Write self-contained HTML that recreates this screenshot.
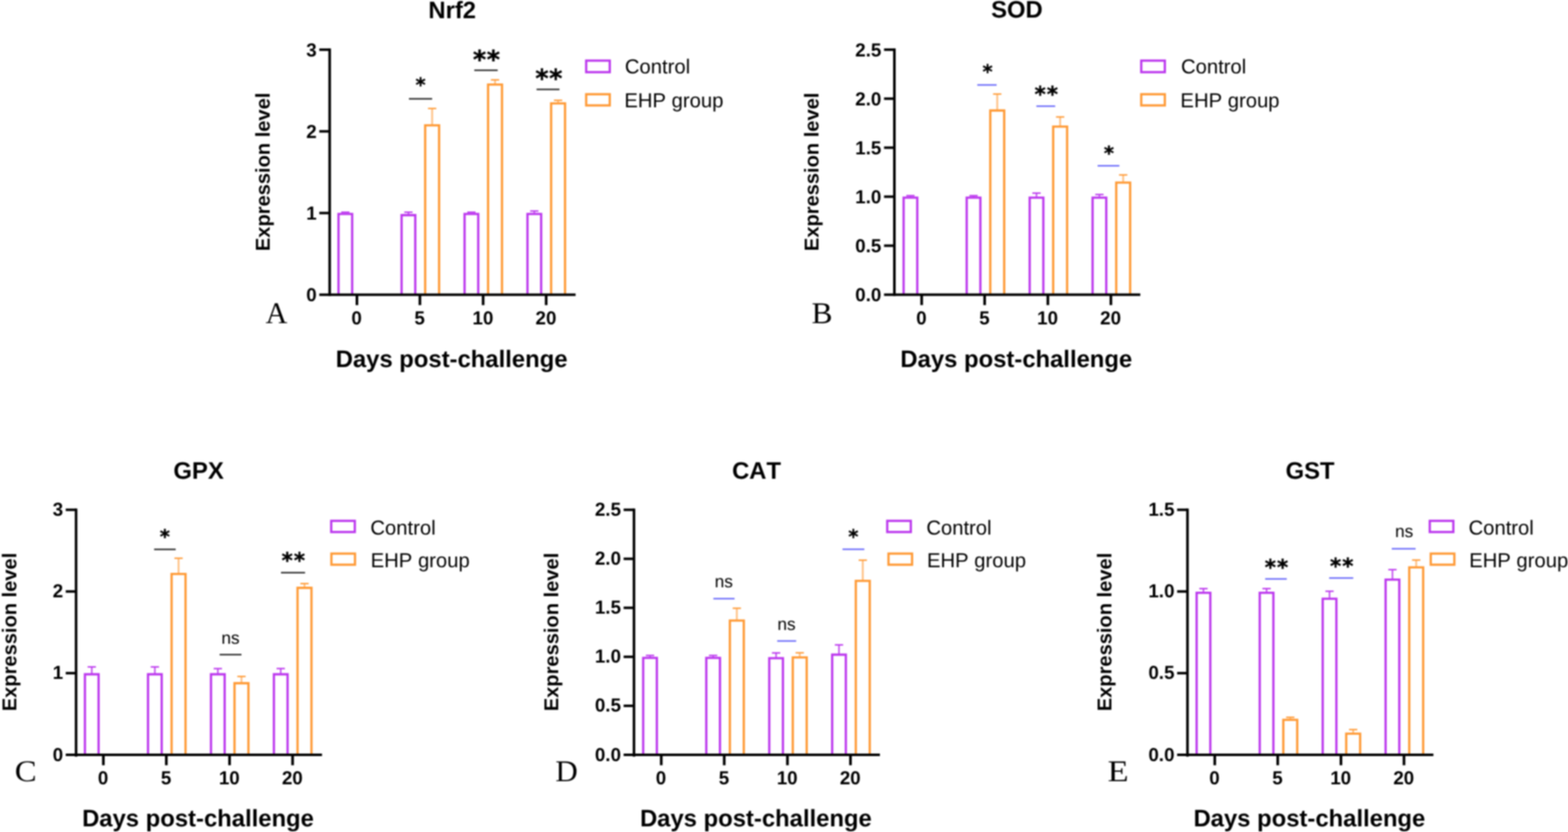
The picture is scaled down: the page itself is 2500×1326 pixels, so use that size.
<!DOCTYPE html>
<html lang="en"><head><meta charset="utf-8"><title>Expression levels of Nrf2, SOD, GPX, CAT and GST</title>
<style>
html,body{margin:0;padding:0;background:#fff}
body{width:2500px;height:1326px;overflow:hidden}
svg{display:block;filter:blur(1px)}
text{font-kerning:none;text-rendering:geometricPrecision}
text.s{font-family:'Liberation Sans', sans-serif;fill:#000}
text.r{font-family:'Liberation Serif', serif;fill:#000}
text.a{font-family:'DejaVu Sans', 'Liberation Sans', sans-serif;fill:#000;font-weight:bold;stroke:#000;stroke-width:0.5px}
</style></head><body>
<svg width="2500" height="1326" viewBox="0 0 2500 1326" shape-rendering="geometricPrecision">
<rect x="0" y="0" width="2500" height="1326" fill="#fff"/>
<g id="panelA">
<path d="M539.7 469.7V341H561.5V469.7" fill="none" stroke="#BC38EE" stroke-width="3.6" stroke-linejoin="miter"/>
<rect x="544" y="337.05" width="13.2" height="2.3" fill="#BC38EE"/>
<path d="M640.3 469.7V342.9H662.1V469.7" fill="none" stroke="#BC38EE" stroke-width="3.6" stroke-linejoin="miter"/>
<rect x="649.9" y="338.2" width="2.6" height="3.4" fill="#BC38EE" opacity="0.85"/>
<rect x="644.6" y="337.05" width="13.2" height="2.3" fill="#BC38EE"/>
<path d="M740.7 469.7V341H762.5V469.7" fill="none" stroke="#BC38EE" stroke-width="3.6" stroke-linejoin="miter"/>
<rect x="745" y="337.05" width="13.2" height="2.3" fill="#BC38EE"/>
<path d="M841 469.7V341H862.8V469.7" fill="none" stroke="#BC38EE" stroke-width="3.6" stroke-linejoin="miter"/>
<rect x="850.6" y="336.3" width="2.6" height="3.4" fill="#BC38EE" opacity="0.85"/>
<rect x="845.3" y="335.15" width="13.2" height="2.3" fill="#BC38EE"/>
<path d="M677.9 469.7V199.8H700.1V469.7" fill="none" stroke="#FF9A36" stroke-width="3.6" stroke-linejoin="miter"/>
<rect x="687.5" y="172.9" width="3" height="25.6" fill="#FF9A36" opacity="0.6"/>
<rect x="682.4" y="171.75" width="13.2" height="2.3" fill="#FF9A36"/>
<path d="M778.2 469.7V134.8H800.4V469.7" fill="none" stroke="#FF9A36" stroke-width="3.6" stroke-linejoin="miter"/>
<rect x="787.8" y="127.3" width="3" height="6.2" fill="#FF9A36" opacity="0.6"/>
<rect x="782.7" y="126.15" width="13.2" height="2.3" fill="#FF9A36"/>
<path d="M878.7 469.7V164.8H900.9V469.7" fill="none" stroke="#FF9A36" stroke-width="3.6" stroke-linejoin="miter"/>
<rect x="888.3" y="159.9" width="3" height="3.6" fill="#FF9A36" opacity="0.6"/>
<rect x="883.2" y="158.75" width="13.2" height="2.3" fill="#FF9A36"/>
<rect x="523.55" y="77.2" width="4.1" height="394.5" fill="#000"/>
<rect x="509.1" y="467.7" width="408.6" height="4" fill="#000"/>
<text class="s" x="504.9" y="480.1" font-size="30" font-weight="bold" text-anchor="end">0</text>
<rect x="509.1" y="337.53" width="16.5" height="4" fill="#000"/>
<text class="s" x="504.9" y="349.93" font-size="30" font-weight="bold" text-anchor="end">1</text>
<rect x="509.1" y="207.37" width="16.5" height="4" fill="#000"/>
<text class="s" x="504.9" y="219.77" font-size="30" font-weight="bold" text-anchor="end">2</text>
<rect x="509.1" y="77.2" width="16.5" height="4" fill="#000"/>
<text class="s" x="504.9" y="89.6" font-size="30" font-weight="bold" text-anchor="end">3</text>
<rect x="567" y="469.7" width="4.2" height="16.6" fill="#000"/>
<text class="s" x="568.7" y="517.1" font-size="30" font-weight="bold" text-anchor="middle">0</text>
<rect x="667.4" y="469.7" width="4.2" height="16.6" fill="#000"/>
<text class="s" x="669.1" y="517.1" font-size="30" font-weight="bold" text-anchor="middle">5</text>
<rect x="768.2" y="469.7" width="4.2" height="16.6" fill="#000"/>
<text class="s" x="769.9" y="517.1" font-size="30" font-weight="bold" text-anchor="middle">10</text>
<rect x="868.7" y="469.7" width="4.2" height="16.6" fill="#000"/>
<text class="s" x="870.4" y="517.1" font-size="30" font-weight="bold" text-anchor="middle">20</text>
<text class="s" x="721" y="28.5" font-size="38" font-weight="bold" text-anchor="middle">Nrf2</text>
<text class="s" x="720" y="585" font-size="38" font-weight="bold" text-anchor="middle">Days post-challenge</text>
<text class="s" x="429.7" y="273.95" font-size="32" font-weight="bold" text-anchor="middle" transform="rotate(-90 429.7 273.95)">Expression level</text>
<text class="r" font-size="48" transform="translate(423.5 514.5) scale(1 1)">A</text>
<rect x="934.6" y="96.6" width="37.6" height="18.4" fill="none" stroke="#BC38EE" stroke-width="3.6"/>
<text class="s" x="996.2" y="117.3" font-size="32.3">Control</text>
<rect x="934.6" y="150.2" width="37.6" height="17.8" fill="none" stroke="#FF9A36" stroke-width="3.6"/>
<text class="s" x="995.4" y="171" font-size="32.3">EHP group</text>
<rect x="652" y="156.3" width="37" height="2.4" fill="#2a2a2a"/>
<text class="a" x="670.5" y="146.13" font-size="30.88" font-weight="bold" text-anchor="middle">*</text>
<rect x="756.2" y="110.8" width="37.3" height="2.4" fill="#2a2a2a"/>
<text class="a" x="776.1" y="108.55" font-size="40.53" font-weight="bold" text-anchor="middle" letter-spacing="0.8">**</text>
<rect x="855.5" y="141.3" width="36.5" height="2.4" fill="#2a2a2a"/>
<text class="a" x="875.4" y="139.05" font-size="40.53" font-weight="bold" text-anchor="middle" letter-spacing="0.8">**</text>
</g>
<g id="panelB">
<path d="M1440.7 469.65V315H1462.5V469.65" fill="none" stroke="#BC38EE" stroke-width="3.6" stroke-linejoin="miter"/>
<rect x="1450.3" y="311.8" width="2.6" height="1.9" fill="#BC38EE" opacity="0.85"/>
<rect x="1445" y="310.65" width="13.2" height="2.3" fill="#BC38EE"/>
<path d="M1541.3 469.65V315H1563.1V469.65" fill="none" stroke="#BC38EE" stroke-width="3.6" stroke-linejoin="miter"/>
<rect x="1550.9" y="311.8" width="2.6" height="1.9" fill="#BC38EE" opacity="0.85"/>
<rect x="1545.6" y="310.65" width="13.2" height="2.3" fill="#BC38EE"/>
<path d="M1641.7 469.65V315H1663.5V469.65" fill="none" stroke="#BC38EE" stroke-width="3.6" stroke-linejoin="miter"/>
<rect x="1651.3" y="307.8" width="2.6" height="5.9" fill="#BC38EE" opacity="0.85"/>
<rect x="1646" y="306.65" width="13.2" height="2.3" fill="#BC38EE"/>
<path d="M1742 469.65V315H1763.8V469.65" fill="none" stroke="#BC38EE" stroke-width="3.6" stroke-linejoin="miter"/>
<rect x="1751.6" y="310" width="2.6" height="3.7" fill="#BC38EE" opacity="0.85"/>
<rect x="1746.3" y="308.85" width="13.2" height="2.3" fill="#BC38EE"/>
<path d="M1578.9 469.65V176.1H1601.1V469.65" fill="none" stroke="#FF9A36" stroke-width="3.6" stroke-linejoin="miter"/>
<rect x="1588.5" y="149.9" width="3" height="24.9" fill="#FF9A36" opacity="0.6"/>
<rect x="1583.4" y="148.75" width="13.2" height="2.3" fill="#FF9A36"/>
<path d="M1679.2 469.65V201.8H1701.4V469.65" fill="none" stroke="#FF9A36" stroke-width="3.6" stroke-linejoin="miter"/>
<rect x="1688.8" y="186.4" width="3" height="14.1" fill="#FF9A36" opacity="0.6"/>
<rect x="1683.7" y="185.25" width="13.2" height="2.3" fill="#FF9A36"/>
<path d="M1779.7 469.65V291H1801.9V469.65" fill="none" stroke="#FF9A36" stroke-width="3.6" stroke-linejoin="miter"/>
<rect x="1789.3" y="278.8" width="3" height="10.9" fill="#FF9A36" opacity="0.6"/>
<rect x="1784.2" y="277.65" width="13.2" height="2.3" fill="#FF9A36"/>
<rect x="1423.95" y="77.15" width="4.1" height="394.5" fill="#000"/>
<rect x="1409.5" y="467.65" width="408.6" height="4" fill="#000"/>
<text class="s" x="1405.3" y="480.05" font-size="30" font-weight="bold" text-anchor="end">0.0</text>
<rect x="1409.5" y="389.55" width="16.5" height="4" fill="#000"/>
<text class="s" x="1405.3" y="401.95" font-size="30" font-weight="bold" text-anchor="end">0.5</text>
<rect x="1409.5" y="311.45" width="16.5" height="4" fill="#000"/>
<text class="s" x="1405.3" y="323.85" font-size="30" font-weight="bold" text-anchor="end">1.0</text>
<rect x="1409.5" y="233.35" width="16.5" height="4" fill="#000"/>
<text class="s" x="1405.3" y="245.75" font-size="30" font-weight="bold" text-anchor="end">1.5</text>
<rect x="1409.5" y="155.25" width="16.5" height="4" fill="#000"/>
<text class="s" x="1405.3" y="167.65" font-size="30" font-weight="bold" text-anchor="end">2.0</text>
<rect x="1409.5" y="77.15" width="16.5" height="4" fill="#000"/>
<text class="s" x="1405.3" y="89.55" font-size="30" font-weight="bold" text-anchor="end">2.5</text>
<rect x="1467.4" y="469.65" width="4.2" height="16.6" fill="#000"/>
<text class="s" x="1469.1" y="517.05" font-size="30" font-weight="bold" text-anchor="middle">0</text>
<rect x="1567.8" y="469.65" width="4.2" height="16.6" fill="#000"/>
<text class="s" x="1569.5" y="517.05" font-size="30" font-weight="bold" text-anchor="middle">5</text>
<rect x="1668.6" y="469.65" width="4.2" height="16.6" fill="#000"/>
<text class="s" x="1670.3" y="517.05" font-size="30" font-weight="bold" text-anchor="middle">10</text>
<rect x="1769.1" y="469.65" width="4.2" height="16.6" fill="#000"/>
<text class="s" x="1770.8" y="517.05" font-size="30" font-weight="bold" text-anchor="middle">20</text>
<text class="s" x="1621.4" y="28.45" font-size="38" font-weight="bold" text-anchor="middle">SOD</text>
<text class="s" x="1620.4" y="584.95" font-size="38" font-weight="bold" text-anchor="middle">Days post-challenge</text>
<text class="s" x="1305" y="273.9" font-size="32" font-weight="bold" text-anchor="middle" transform="rotate(-90 1305 273.9)">Expression level</text>
<text class="r" font-size="48" transform="translate(1294.1 515) scale(1.04 1)">B</text>
<rect x="1819.6" y="96.6" width="37.6" height="18.4" fill="none" stroke="#BC38EE" stroke-width="3.6"/>
<text class="s" x="1882.9" y="117.3" font-size="32.3">Control</text>
<rect x="1819.6" y="150.2" width="37.6" height="17.8" fill="none" stroke="#FF9A36" stroke-width="3.6"/>
<text class="s" x="1882.1" y="171" font-size="32.3">EHP group</text>
<rect x="1558.2" y="134.2" width="30.8" height="2.4" fill="#6a6afa"/>
<text class="a" x="1574.5" y="125.13" font-size="30.88" font-weight="bold" text-anchor="middle">*</text>
<rect x="1652.4" y="168" width="30" height="2.4" fill="#6a6afa"/>
<text class="a" x="1669.1" y="161.87" font-size="34.26" font-weight="bold" text-anchor="middle" letter-spacing="1.6">**</text>
<rect x="1750" y="263" width="34.7" height="2.4" fill="#6a6afa"/>
<text class="a" x="1768.1" y="255.13" font-size="30.88" font-weight="bold" text-anchor="middle">*</text>
</g>
<g id="panelC">
<path d="M135.4 1203V1074.6H157.2V1203" fill="none" stroke="#BC38EE" stroke-width="3.6" stroke-linejoin="miter"/>
<rect x="145" y="1062.9" width="2.6" height="10.4" fill="#BC38EE" opacity="0.85"/>
<rect x="139.7" y="1061.75" width="13.2" height="2.3" fill="#BC38EE"/>
<path d="M236 1203V1074.6H257.8V1203" fill="none" stroke="#BC38EE" stroke-width="3.6" stroke-linejoin="miter"/>
<rect x="245.6" y="1062.9" width="2.6" height="10.4" fill="#BC38EE" opacity="0.85"/>
<rect x="240.3" y="1061.75" width="13.2" height="2.3" fill="#BC38EE"/>
<path d="M336.4 1203V1074.6H358.2V1203" fill="none" stroke="#BC38EE" stroke-width="3.6" stroke-linejoin="miter"/>
<rect x="346" y="1065.6" width="2.6" height="7.7" fill="#BC38EE" opacity="0.85"/>
<rect x="340.7" y="1064.45" width="13.2" height="2.3" fill="#BC38EE"/>
<path d="M436.7 1203V1074.6H458.5V1203" fill="none" stroke="#BC38EE" stroke-width="3.6" stroke-linejoin="miter"/>
<rect x="446.3" y="1065.5" width="2.6" height="7.8" fill="#BC38EE" opacity="0.85"/>
<rect x="441" y="1064.35" width="13.2" height="2.3" fill="#BC38EE"/>
<path d="M273.6 1203V914.7H295.8V1203" fill="none" stroke="#FF9A36" stroke-width="3.6" stroke-linejoin="miter"/>
<rect x="283.2" y="889.7" width="3" height="23.7" fill="#FF9A36" opacity="0.6"/>
<rect x="278.1" y="888.55" width="13.2" height="2.3" fill="#FF9A36"/>
<path d="M373.9 1203V1088.9H396.1V1203" fill="none" stroke="#FF9A36" stroke-width="3.6" stroke-linejoin="miter"/>
<rect x="383.5" y="1078.1" width="3" height="9.5" fill="#FF9A36" opacity="0.6"/>
<rect x="378.4" y="1076.95" width="13.2" height="2.3" fill="#FF9A36"/>
<path d="M474.4 1203V936.9H496.6V1203" fill="none" stroke="#FF9A36" stroke-width="3.6" stroke-linejoin="miter"/>
<rect x="484" y="930.1" width="3" height="5.5" fill="#FF9A36" opacity="0.6"/>
<rect x="478.9" y="928.95" width="13.2" height="2.3" fill="#FF9A36"/>
<rect x="119.25" y="810.5" width="4.1" height="395.4" fill="#000"/>
<rect x="104.8" y="1201" width="408.6" height="4" fill="#000"/>
<text class="s" x="100.6" y="1212.5" font-size="30" font-weight="bold" text-anchor="end">0</text>
<rect x="104.8" y="1070.83" width="16.5" height="4" fill="#000"/>
<text class="s" x="100.6" y="1082.33" font-size="30" font-weight="bold" text-anchor="end">1</text>
<rect x="104.8" y="940.67" width="16.5" height="4" fill="#000"/>
<text class="s" x="100.6" y="952.17" font-size="30" font-weight="bold" text-anchor="end">2</text>
<rect x="104.8" y="810.5" width="16.5" height="4" fill="#000"/>
<text class="s" x="100.6" y="822" font-size="30" font-weight="bold" text-anchor="end">3</text>
<rect x="162.7" y="1203" width="4.2" height="16.6" fill="#000"/>
<text class="s" x="164.4" y="1249.5" font-size="30" font-weight="bold" text-anchor="middle">0</text>
<rect x="263.1" y="1203" width="4.2" height="16.6" fill="#000"/>
<text class="s" x="264.8" y="1249.5" font-size="30" font-weight="bold" text-anchor="middle">5</text>
<rect x="363.9" y="1203" width="4.2" height="16.6" fill="#000"/>
<text class="s" x="365.6" y="1249.5" font-size="30" font-weight="bold" text-anchor="middle">10</text>
<rect x="464.4" y="1203" width="4.2" height="16.6" fill="#000"/>
<text class="s" x="466.1" y="1249.5" font-size="30" font-weight="bold" text-anchor="middle">20</text>
<text class="s" x="316.7" y="762.5" font-size="38" font-weight="bold" text-anchor="middle">GPX</text>
<text class="s" x="315.7" y="1316.8" font-size="38" font-weight="bold" text-anchor="middle">Days post-challenge</text>
<text class="s" x="25.8" y="1007.25" font-size="32" font-weight="bold" text-anchor="middle" transform="rotate(-90 25.8 1007.25)">Expression level</text>
<text class="r" font-size="48" transform="translate(23.6 1245) scale(1.09 1)">C</text>
<rect x="528.1" y="830.1" width="37.6" height="17.8" fill="none" stroke="#BC38EE" stroke-width="3.6"/>
<text class="s" x="590.5" y="851.7" font-size="32.3">Control</text>
<rect x="528.4" y="882.3" width="37.6" height="17.7" fill="none" stroke="#FF9A36" stroke-width="3.6"/>
<text class="s" x="591" y="904" font-size="32.3">EHP group</text>
<rect x="245.7" y="874.4" width="34.4" height="2.4" fill="#2a2a2a"/>
<text class="a" x="262.9" y="865.83" font-size="30.88" font-weight="bold" text-anchor="middle">*</text>
<rect x="350.2" y="1042.1" width="34.8" height="2.4" fill="#2a2a2a"/>
<text class="s" x="367.6" y="1025.9" font-size="27.5" text-anchor="middle">ns</text>
<rect x="448" y="911.5" width="38.4" height="2.4" fill="#2a2a2a"/>
<text class="a" x="468.5" y="905.27" font-size="34.26" font-weight="bold" text-anchor="middle" letter-spacing="1.6">**</text>
</g>
<g id="panelD">
<path d="M1025.5 1203V1048.5H1047.3V1203" fill="none" stroke="#BC38EE" stroke-width="3.6" stroke-linejoin="miter"/>
<rect x="1035.1" y="1044.6" width="2.6" height="2.6" fill="#BC38EE" opacity="0.85"/>
<rect x="1029.8" y="1043.45" width="13.2" height="2.3" fill="#BC38EE"/>
<path d="M1126.1 1203V1048.5H1147.9V1203" fill="none" stroke="#BC38EE" stroke-width="3.6" stroke-linejoin="miter"/>
<rect x="1135.7" y="1044.6" width="2.6" height="2.6" fill="#BC38EE" opacity="0.85"/>
<rect x="1130.4" y="1043.45" width="13.2" height="2.3" fill="#BC38EE"/>
<path d="M1226.5 1203V1049H1248.3V1203" fill="none" stroke="#BC38EE" stroke-width="3.6" stroke-linejoin="miter"/>
<rect x="1236.1" y="1040.6" width="2.6" height="7.1" fill="#BC38EE" opacity="0.85"/>
<rect x="1230.8" y="1039.45" width="13.2" height="2.3" fill="#BC38EE"/>
<path d="M1326.8 1203V1043.4H1348.6V1203" fill="none" stroke="#BC38EE" stroke-width="3.6" stroke-linejoin="miter"/>
<rect x="1336.4" y="1027.8" width="2.6" height="14.3" fill="#BC38EE" opacity="0.85"/>
<rect x="1331.1" y="1026.65" width="13.2" height="2.3" fill="#BC38EE"/>
<path d="M1163.7 1203V989H1185.9V1203" fill="none" stroke="#FF9A36" stroke-width="3.6" stroke-linejoin="miter"/>
<rect x="1173.3" y="969.4" width="3" height="18.3" fill="#FF9A36" opacity="0.6"/>
<rect x="1168.2" y="968.25" width="13.2" height="2.3" fill="#FF9A36"/>
<path d="M1264 1203V1047.7H1286.2V1203" fill="none" stroke="#FF9A36" stroke-width="3.6" stroke-linejoin="miter"/>
<rect x="1273.6" y="1040.4" width="3" height="6" fill="#FF9A36" opacity="0.6"/>
<rect x="1268.5" y="1039.25" width="13.2" height="2.3" fill="#FF9A36"/>
<path d="M1364.5 1203V925.7H1386.7V1203" fill="none" stroke="#FF9A36" stroke-width="3.6" stroke-linejoin="miter"/>
<rect x="1374.1" y="892.8" width="3" height="31.6" fill="#FF9A36" opacity="0.6"/>
<rect x="1369" y="891.65" width="13.2" height="2.3" fill="#FF9A36"/>
<rect x="1008.75" y="810.5" width="4.1" height="395.4" fill="#000"/>
<rect x="994.3" y="1201" width="408.6" height="4" fill="#000"/>
<text class="s" x="990.1" y="1212.5" font-size="30" font-weight="bold" text-anchor="end">0.0</text>
<rect x="994.3" y="1122.9" width="16.5" height="4" fill="#000"/>
<text class="s" x="990.1" y="1134.4" font-size="30" font-weight="bold" text-anchor="end">0.5</text>
<rect x="994.3" y="1044.8" width="16.5" height="4" fill="#000"/>
<text class="s" x="990.1" y="1056.3" font-size="30" font-weight="bold" text-anchor="end">1.0</text>
<rect x="994.3" y="966.7" width="16.5" height="4" fill="#000"/>
<text class="s" x="990.1" y="978.2" font-size="30" font-weight="bold" text-anchor="end">1.5</text>
<rect x="994.3" y="888.6" width="16.5" height="4" fill="#000"/>
<text class="s" x="990.1" y="900.1" font-size="30" font-weight="bold" text-anchor="end">2.0</text>
<rect x="994.3" y="810.5" width="16.5" height="4" fill="#000"/>
<text class="s" x="990.1" y="822" font-size="30" font-weight="bold" text-anchor="end">2.5</text>
<rect x="1052.2" y="1203" width="4.2" height="16.6" fill="#000"/>
<text class="s" x="1053.9" y="1249.5" font-size="30" font-weight="bold" text-anchor="middle">0</text>
<rect x="1152.6" y="1203" width="4.2" height="16.6" fill="#000"/>
<text class="s" x="1154.3" y="1249.5" font-size="30" font-weight="bold" text-anchor="middle">5</text>
<rect x="1253.4" y="1203" width="4.2" height="16.6" fill="#000"/>
<text class="s" x="1255.1" y="1249.5" font-size="30" font-weight="bold" text-anchor="middle">10</text>
<rect x="1353.9" y="1203" width="4.2" height="16.6" fill="#000"/>
<text class="s" x="1355.6" y="1249.5" font-size="30" font-weight="bold" text-anchor="middle">20</text>
<text class="s" x="1206.2" y="762.5" font-size="38" font-weight="bold" text-anchor="middle">CAT</text>
<text class="s" x="1205.2" y="1316.8" font-size="38" font-weight="bold" text-anchor="middle">Days post-challenge</text>
<text class="s" x="889.8" y="1007.25" font-size="32" font-weight="bold" text-anchor="middle" transform="rotate(-90 889.8 1007.25)">Expression level</text>
<text class="r" font-size="48" transform="translate(885.6 1245) scale(1.03 1)">D</text>
<rect x="1414.6" y="830.1" width="37.6" height="17.8" fill="none" stroke="#BC38EE" stroke-width="3.6"/>
<text class="s" x="1476.9" y="851.7" font-size="32.3">Control</text>
<rect x="1416.6" y="882.3" width="37.6" height="17.7" fill="none" stroke="#FF9A36" stroke-width="3.6"/>
<text class="s" x="1477.9" y="904" font-size="32.3">EHP group</text>
<rect x="1137.4" y="952.9" width="33.8" height="2.4" fill="#6a6afa"/>
<text class="s" x="1154" y="936.1" font-size="27.5" text-anchor="middle">ns</text>
<rect x="1239.2" y="1020.4" width="30.2" height="2.4" fill="#6a6afa"/>
<text class="s" x="1253.9" y="1003.7" font-size="27.5" text-anchor="middle">ns</text>
<rect x="1343.3" y="874.2" width="34.8" height="2.4" fill="#6a6afa"/>
<text class="a" x="1360.6" y="865.83" font-size="30.88" font-weight="bold" text-anchor="middle">*</text>
</g>
<g id="panelE">
<path d="M1907.9 1203V944.7H1929.7V1203" fill="none" stroke="#BC38EE" stroke-width="3.6" stroke-linejoin="miter"/>
<rect x="1917.5" y="938.1" width="2.6" height="5.3" fill="#BC38EE" opacity="0.85"/>
<rect x="1912.2" y="936.95" width="13.2" height="2.3" fill="#BC38EE"/>
<path d="M2008.5 1203V944.7H2030.3V1203" fill="none" stroke="#BC38EE" stroke-width="3.6" stroke-linejoin="miter"/>
<rect x="2018.1" y="938.1" width="2.6" height="5.3" fill="#BC38EE" opacity="0.85"/>
<rect x="2012.8" y="936.95" width="13.2" height="2.3" fill="#BC38EE"/>
<path d="M2108.9 1203V954.2H2130.7V1203" fill="none" stroke="#BC38EE" stroke-width="3.6" stroke-linejoin="miter"/>
<rect x="2118.5" y="942.3" width="2.6" height="10.6" fill="#BC38EE" opacity="0.85"/>
<rect x="2113.2" y="941.15" width="13.2" height="2.3" fill="#BC38EE"/>
<path d="M2209.2 1203V923.8H2231V1203" fill="none" stroke="#BC38EE" stroke-width="3.6" stroke-linejoin="miter"/>
<rect x="2218.8" y="907.9" width="2.6" height="14.6" fill="#BC38EE" opacity="0.85"/>
<rect x="2213.5" y="906.75" width="13.2" height="2.3" fill="#BC38EE"/>
<path d="M2046.1 1203V1147.2H2068.3V1203" fill="none" stroke="#FF9A36" stroke-width="3.6" stroke-linejoin="miter"/>
<rect x="2055.7" y="1143.2" width="3" height="2.7" fill="#FF9A36" opacity="0.6"/>
<rect x="2050.6" y="1142.05" width="13.2" height="2.3" fill="#FF9A36"/>
<path d="M2146.4 1203V1169.2H2168.6V1203" fill="none" stroke="#FF9A36" stroke-width="3.6" stroke-linejoin="miter"/>
<rect x="2156" y="1162.8" width="3" height="5.1" fill="#FF9A36" opacity="0.6"/>
<rect x="2150.9" y="1161.65" width="13.2" height="2.3" fill="#FF9A36"/>
<path d="M2246.9 1203V904.2H2269.1V1203" fill="none" stroke="#FF9A36" stroke-width="3.6" stroke-linejoin="miter"/>
<rect x="2256.5" y="892.6" width="3" height="10.3" fill="#FF9A36" opacity="0.6"/>
<rect x="2251.4" y="891.45" width="13.2" height="2.3" fill="#FF9A36"/>
<rect x="1891.25" y="810.5" width="4.1" height="395.4" fill="#000"/>
<rect x="1876.8" y="1201" width="408.6" height="4" fill="#000"/>
<text class="s" x="1872.6" y="1212.5" font-size="30" font-weight="bold" text-anchor="end">0.0</text>
<rect x="1876.8" y="1070.83" width="16.5" height="4" fill="#000"/>
<text class="s" x="1872.6" y="1082.33" font-size="30" font-weight="bold" text-anchor="end">0.5</text>
<rect x="1876.8" y="940.67" width="16.5" height="4" fill="#000"/>
<text class="s" x="1872.6" y="952.17" font-size="30" font-weight="bold" text-anchor="end">1.0</text>
<rect x="1876.8" y="810.5" width="16.5" height="4" fill="#000"/>
<text class="s" x="1872.6" y="822" font-size="30" font-weight="bold" text-anchor="end">1.5</text>
<rect x="1934.7" y="1203" width="4.2" height="16.6" fill="#000"/>
<text class="s" x="1936.4" y="1249.5" font-size="30" font-weight="bold" text-anchor="middle">0</text>
<rect x="2035.1" y="1203" width="4.2" height="16.6" fill="#000"/>
<text class="s" x="2036.8" y="1249.5" font-size="30" font-weight="bold" text-anchor="middle">5</text>
<rect x="2135.9" y="1203" width="4.2" height="16.6" fill="#000"/>
<text class="s" x="2137.6" y="1249.5" font-size="30" font-weight="bold" text-anchor="middle">10</text>
<rect x="2236.4" y="1203" width="4.2" height="16.6" fill="#000"/>
<text class="s" x="2238.1" y="1249.5" font-size="30" font-weight="bold" text-anchor="middle">20</text>
<text class="s" x="2088.7" y="762.5" font-size="38" font-weight="bold" text-anchor="middle">GST</text>
<text class="s" x="2087.7" y="1316.8" font-size="38" font-weight="bold" text-anchor="middle">Days post-challenge</text>
<text class="s" x="1772.3" y="1007.25" font-size="32" font-weight="bold" text-anchor="middle" transform="rotate(-90 1772.3 1007.25)">Expression level</text>
<text class="r" font-size="48" transform="translate(1766.1 1245) scale(1.14 1)">E</text>
<rect x="2279.6" y="830.1" width="37.6" height="17.8" fill="none" stroke="#BC38EE" stroke-width="3.6"/>
<text class="s" x="2341.4" y="851.7" font-size="32.3">Control</text>
<rect x="2281.2" y="882.3" width="37.6" height="17.7" fill="none" stroke="#FF9A36" stroke-width="3.6"/>
<text class="s" x="2342.4" y="904" font-size="32.3">EHP group</text>
<rect x="2017.2" y="921.5" width="34.4" height="2.4" fill="#6a6afa"/>
<text class="a" x="2036.1" y="915.67" font-size="34.26" font-weight="bold" text-anchor="middle" letter-spacing="1.6">**</text>
<rect x="2119.2" y="920" width="38.4" height="2.4" fill="#6a6afa"/>
<text class="a" x="2140" y="913.97" font-size="34.26" font-weight="bold" text-anchor="middle" letter-spacing="1.6">**</text>
<rect x="2219" y="873.4" width="38" height="2.4" fill="#6a6afa"/>
<text class="s" x="2238.8" y="856" font-size="27.5" text-anchor="middle">ns</text>
</g>
</svg>
</body></html>
